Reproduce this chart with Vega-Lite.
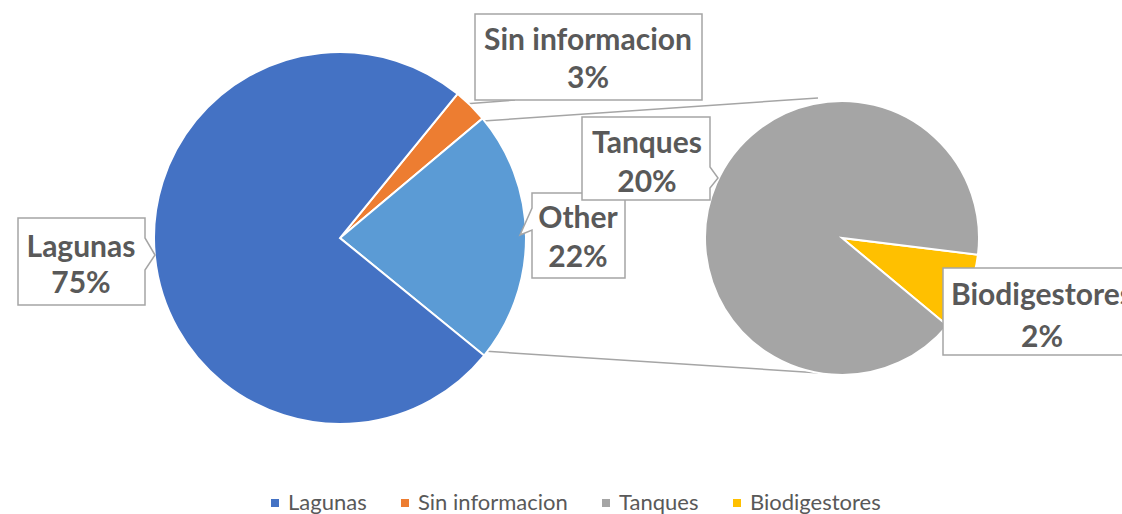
{
  "$schema": "https://vega.github.io/schema/vega-lite/v6.json",
  "width": 1122,
  "height": 476,
  "padding": 0,
  "datasets": {
    "principal": [
      {"categoria": "Sin informacion", "pct": 0.03, "orden": 1},
      {"categoria": "Other", "pct": 0.22, "orden": 2},
      {"categoria": "Lagunas", "pct": 0.75, "orden": 3}
    ],
    "detalle": [
      {"categoria": "Biodigestores", "pct": 0.02, "orden": 1},
      {"categoria": "Tanques", "pct": 0.20, "orden": 2}
    ]
  },
  "layer": [
    {
      "data": {"name": "principal"},
      "transform": [{"filter": "datum.orden === 1"}],
      "mark": {"type": "rule", "stroke": "#A5A5A5", "strokeWidth": 1.5, "xOffset": 143, "x2Offset": -24},
      "encoding": {
        "x": {"datum": "Principal", "type": "nominal", "scale": {"type": "point", "domain": ["Principal", "Detalle"], "range": [340, 842], "padding": 0}, "axis": null},
        "x2": {"datum": "Detalle"},
        "y": {"value": 121},
        "y2": {"value": 98}
      }
    },
    {
      "data": {"name": "principal"},
      "transform": [{"filter": "datum.orden === 1"}],
      "mark": {"type": "rule", "stroke": "#A5A5A5", "strokeWidth": 1.5, "xOffset": 143, "x2Offset": -22},
      "encoding": {
        "x": {"datum": "Principal", "type": "nominal", "scale": {"type": "point", "domain": ["Principal", "Detalle"], "range": [340, 842], "padding": 0}, "axis": null},
        "x2": {"datum": "Detalle"},
        "y": {"value": 351},
        "y2": {"value": 373}
      }
    },
    {
      "data": {"name": "principal"},
      "transform": [{"filter": "datum.orden === 1"}],
      "mark": {"type": "rule", "stroke": "#A5A5A5", "strokeWidth": 1.5, "xOffset": 124, "x2Offset": 175},
      "encoding": {
        "x": {"datum": "Principal", "type": "nominal", "scale": {"type": "point", "domain": ["Principal", "Detalle"], "range": [340, 842], "padding": 0}, "axis": null},
        "x2": {"datum": "Principal"},
        "y": {"value": 104},
        "y2": {"value": 100}
      }
    },
    {
      "data": {"name": "principal"},
      "mark": {"type": "arc", "outerRadius": 186, "stroke": "white", "strokeWidth": 2},
      "encoding": {
        "x": {"datum": "Principal", "type": "nominal", "scale": {"type": "point", "domain": ["Principal", "Detalle"], "range": [340, 842], "padding": 0}, "axis": null},
        "theta": {"field": "pct", "type": "quantitative", "stack": true, "scale": {"range": [0.684, 6.967]}},
        "order": {"field": "orden", "type": "quantitative"},
        "color": {
          "condition": {"test": "datum.categoria === 'Other'", "value": "#5B9BD5"},
          "field": "categoria", "type": "nominal",
          "scale": {"domain": ["Lagunas", "Sin informacion", "Tanques", "Biodigestores"], "range": ["#4472C4", "#ED7D31", "#A5A5A5", "#FFC000"]},
          "legend": {"title": null}
        }
      }
    },
    {
      "data": {"name": "detalle"},
      "mark": {"type": "arc", "outerRadius": 137, "stroke": "white", "strokeWidth": 2},
      "encoding": {
        "x": {"datum": "Detalle", "type": "nominal", "scale": {"type": "point", "domain": ["Principal", "Detalle"], "range": [340, 842], "padding": 0}, "axis": null},
        "theta": {"field": "pct", "type": "quantitative", "stack": true, "scale": {"range": [1.693, 7.976]}},
        "order": {"field": "orden", "type": "quantitative"},
        "color": {
          "field": "categoria", "type": "nominal",
          "scale": {"domain": ["Lagunas", "Sin informacion", "Tanques", "Biodigestores"], "range": ["#4472C4", "#ED7D31", "#A5A5A5", "#FFC000"]},
          "legend": {"title": null}
        }
      }
    },
    {
      "data": {"name": "principal"},
      "transform": [{"filter": "datum.categoria === 'Sin informacion'"}],
      "encoding": {
        "x": {"datum": "Principal", "type": "nominal", "scale": {"type": "point", "domain": ["Principal", "Detalle"], "range": [340, 842], "padding": 0}, "axis": null}
      },
      "layer": [
        {"mark": {"type": "point", "shape": "M-1.135,-0.43H1.135V0.43H-1.135Z", "size": 40000, "filled": true, "fill": "white", "stroke": "#A5A5A5", "strokeWidth": 1.5, "opacity": 1, "xOffset": 248.5, "yOffset": -181}},
        {"mark": {"type": "text", "font": "Lato", "fontWeight": "bold", "fontSize": 30, "fill": "#595959", "baseline": "middle", "xOffset": 248, "yOffset": -197}, "encoding": {"text": {"field": "categoria"}}},
        {"mark": {"type": "text", "font": "Lato", "fontWeight": "bold", "fontSize": 30, "fill": "#595959", "baseline": "middle", "xOffset": 248, "yOffset": -159}, "encoding": {"text": {"field": "pct", "type": "quantitative", "format": ".0%"}}}
      ]
    },
    {
      "data": {"name": "principal"},
      "transform": [{"filter": "datum.categoria === 'Lagunas'"}],
      "encoding": {
        "x": {"datum": "Principal", "type": "nominal", "scale": {"type": "point", "domain": ["Principal", "Detalle"], "range": [340, 842], "padding": 0}, "axis": null}
      },
      "layer": [
        {"mark": {"type": "point", "shape": "M-0.635,-0.435H0.635V-0.235L0.735,-0.065L0.635,0.085V0.435H-0.635Z", "size": 40000, "filled": true, "fill": "white", "stroke": "#A5A5A5", "strokeWidth": 1.5, "opacity": 1, "xOffset": -258.5, "yOffset": 23.5}},
        {"mark": {"type": "text", "font": "Lato", "fontWeight": "bold", "fontSize": 30, "fill": "#595959", "baseline": "middle", "xOffset": -259, "yOffset": 10}, "encoding": {"text": {"field": "categoria"}}},
        {"mark": {"type": "text", "font": "Lato", "fontWeight": "bold", "fontSize": 30, "fill": "#595959", "baseline": "middle", "xOffset": -259, "yOffset": 46}, "encoding": {"text": {"field": "pct", "type": "quantitative", "format": ".0%"}}}
      ]
    },
    {
      "data": {"name": "principal"},
      "transform": [{"filter": "datum.categoria === 'Other'"}],
      "encoding": {
        "x": {"datum": "Principal", "type": "nominal", "scale": {"type": "point", "domain": ["Principal", "Detalle"], "range": [340, 842], "padding": 0}, "axis": null}
      },
      "layer": [
        {"mark": {"type": "point", "shape": "M-0.465,-0.425H0.465V0.425H-0.465V-0.055L-0.585,-0.005L-0.465,-0.275Z", "size": 40000, "filled": true, "fill": "white", "stroke": "#A5A5A5", "strokeWidth": 1.5, "opacity": 1, "xOffset": 238.5, "yOffset": -2.5}},
        {"mark": {"type": "text", "font": "Lato", "fontWeight": "bold", "fontSize": 30, "fill": "#595959", "baseline": "middle", "xOffset": 238, "yOffset": -19}, "encoding": {"text": {"field": "categoria"}}},
        {"mark": {"type": "text", "font": "Lato", "fontWeight": "bold", "fontSize": 30, "fill": "#595959", "baseline": "middle", "xOffset": 238, "yOffset": 20}, "encoding": {"text": {"field": "pct", "type": "quantitative", "format": ".0%"}}}
      ]
    },
    {
      "data": {"name": "detalle"},
      "transform": [{"filter": "datum.categoria === 'Tanques'"}],
      "encoding": {
        "x": {"datum": "Detalle", "type": "nominal", "scale": {"type": "point", "domain": ["Principal", "Detalle"], "range": [340, 842], "padding": 0}, "axis": null}
      },
      "layer": [
        {"mark": {"type": "point", "shape": "M-0.64,-0.415H0.64V0.085L0.72,0.195L0.64,0.295V0.415H-0.64Z", "size": 40000, "filled": true, "fill": "white", "stroke": "#A5A5A5", "strokeWidth": 1.5, "opacity": 1, "xOffset": -196, "yOffset": -79.5}},
        {"mark": {"type": "text", "font": "Lato", "fontWeight": "bold", "fontSize": 30, "fill": "#595959", "baseline": "middle", "xOffset": -195, "yOffset": -94}, "encoding": {"text": {"field": "categoria"}}},
        {"mark": {"type": "text", "font": "Lato", "fontWeight": "bold", "fontSize": 30, "fill": "#595959", "baseline": "middle", "xOffset": -195, "yOffset": -55}, "encoding": {"text": {"field": "pct", "type": "quantitative", "format": ".0%"}}}
      ]
    },
    {
      "data": {"name": "detalle"},
      "transform": [{"filter": "datum.categoria === 'Biodigestores'"}],
      "encoding": {
        "x": {"datum": "Detalle", "type": "nominal", "scale": {"type": "point", "domain": ["Principal", "Detalle"], "range": [340, 842], "padding": 0}, "axis": null}
      },
      "layer": [
        {"mark": {"type": "point", "shape": "M-0.99,-0.435H0.99V0.435H-0.99Z", "size": 40000, "filled": true, "fill": "white", "stroke": "#A5A5A5", "strokeWidth": 1.5, "opacity": 1, "xOffset": 200, "yOffset": 73.5}},
        {"mark": {"type": "text", "font": "Lato", "fontWeight": "bold", "fontSize": 30, "fill": "#595959", "baseline": "middle", "xOffset": 200, "yOffset": 58}, "encoding": {"text": {"field": "categoria"}}},
        {"mark": {"type": "text", "font": "Lato", "fontWeight": "bold", "fontSize": 30, "fill": "#595959", "baseline": "middle", "xOffset": 200, "yOffset": 100}, "encoding": {"text": {"field": "pct", "type": "quantitative", "format": ".0%"}}}
      ]
    }
  ],
  "resolve": {"scale": {"theta": "independent"}},
  "config": {
    "view": {"stroke": null},
    "legend": {
      "orient": "none",
      "legendX": 264,
      "legendY": 492,
      "direction": "horizontal",
      "symbolType": "square",
      "symbolSize": 64,
      "symbolStrokeWidth": 0,
      "labelFont": "Lato",
      "labelFontSize": 22,
      "labelColor": "#595959",
      "labelOffset": 2,
      "columnPadding": 27,
      "padding": 0
    }
  }
}
